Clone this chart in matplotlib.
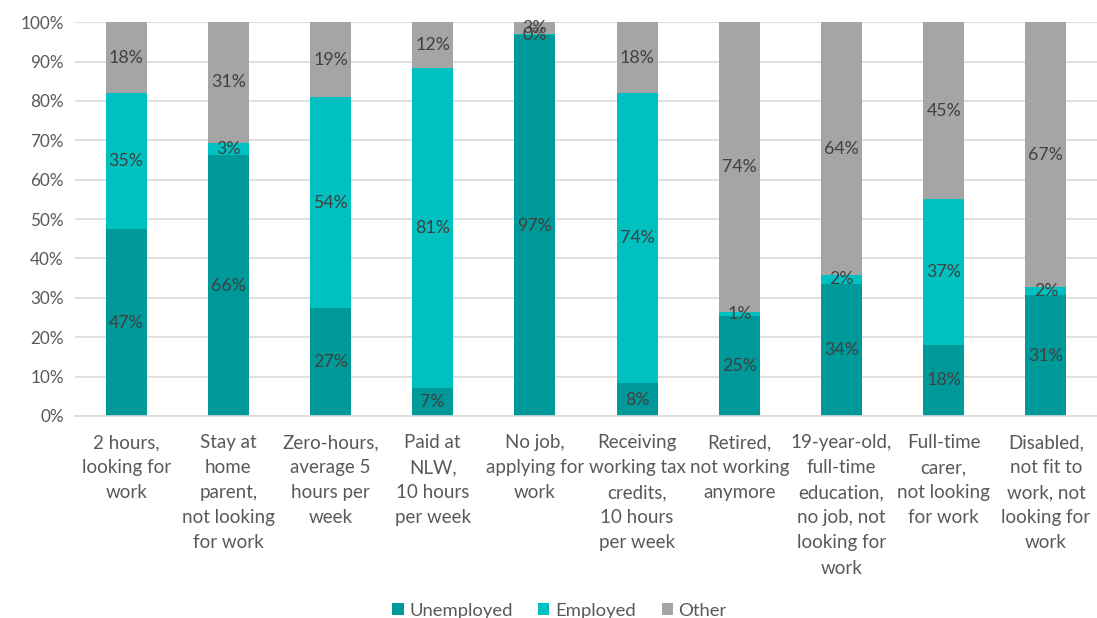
import matplotlib.pyplot as plt
import numpy as np

categories = [
    "2 hours,\nlooking for\nwork",
    "Stay at\nhome\nparent,\nnot looking\nfor work",
    "Zero-hours,\naverage 5\nhours per\nweek",
    "Paid at\nNLW,\n10 hours\nper week",
    "No job,\napplying for\nwork",
    "Receiving\nworking tax\ncredits,\n10 hours\nper week",
    "Retired,\nnot working\nanymore",
    "19-year-old,\nfull-time\neducation,\nno job, not\nlooking for\nwork",
    "Full-time\ncarer,\nnot looking\nfor work",
    "Disabled,\nnot fit to\nwork, not\nlooking for\nwork",
]
unemployed = [47.4, 66.2, 27.4, 7.2, 96.7, 8.3, 25.4, 33.6, 18.1, 30.6]
employed = [34.6, 3.2, 53.6, 81.2, 0.3, 73.7, 0.9, 2.2, 36.9, 2.2]
other = [18.0, 30.6, 19.0, 11.6, 3.0, 18.0, 73.7, 64.2, 45.0, 67.2]

series = [("Unemployed", unemployed, "#009999"),
          ("Employed", employed, "#00C0C0"),
          ("Other", other, "#A5A5A5")]

plt.rcParams['font.family'] = ['Lato', 'DejaVu Sans']

fig = plt.figure(figsize=(10.97, 6.18), dpi=100)
ax = fig.add_axes([0.0684, 0.327, 0.9316, 0.637])

x = np.arange(len(categories))
bottom = np.zeros(len(categories))
for name, vals, color in series:
    vals = np.array(vals)
    ax.bar(x, vals, 0.4, bottom=bottom, color=color, label=name, zorder=2)
    for xi, b, v in zip(x, bottom, vals):
        ax.text(xi, b + v / 2, f"{v:.0f}%", ha='center', va='center',
                fontsize=12.8, color='#404040', zorder=3)
    bottom += vals

ax.set_xlim(-0.5, len(categories) - 0.5)
ax.set_ylim(0, 100)
ax.set_yticks(range(0, 101, 10))
ax.set_yticklabels([f"{t}%" for t in range(0, 101, 10)])
ax.set_xticks(x)
ax.set_xticklabels(categories, linespacing=1.58)
ax.tick_params(axis='both', length=0, colors='#595959')
ax.tick_params(axis='y', labelsize=12.3, pad=8)
ax.tick_params(axis='x', labelsize=13.5, pad=13)
ax.grid(axis='y', color='#D9D9D9', linewidth=1.2, zorder=0)
for s in ['top', 'right', 'left']:
    ax.spines[s].set_visible(False)
ax.spines['bottom'].set_color('#D9D9D9')
ax.spines['bottom'].set_linewidth(1.2)

fig.legend(loc='lower center', bbox_to_anchor=(0.51, -0.028), ncol=3, frameon=False,
           fontsize=13.3, handlelength=0.6, handleheight=0.6, handletextpad=0.3,
           columnspacing=1.4, labelcolor='#595959')

fig.savefig("out.png", dpi=100)
